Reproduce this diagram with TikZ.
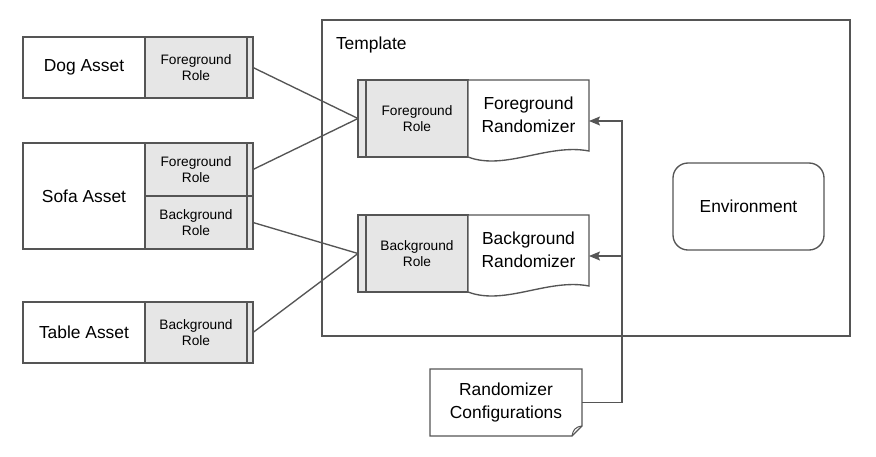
\documentclass[tikz,border=0pt]{standalone}
\usepackage{fontspec}
\setmainfont{Liberation Sans}
\usetikzlibrary{arrows.meta}
\definecolor{edge}{RGB}{85,85,85}
\definecolor{rolefill}{RGB}{230,230,230}
\begin{document}
\begin{tikzpicture}[x=1pt,y=-1pt,
  every node/.style={inner sep=0pt, outer sep=0pt},
  base/.style={draw=edge, line width=1.35pt},
  big/.style={font=\fontsize{17.4}{22.7}\selectfont, align=center},
  small/.style={font=\fontsize{13.7}{16.3}\selectfont, align=center},
  assetbox/.style={base, fill=white, minimum width=122pt, big},
  rolebox/.style={base, fill=rolefill, minimum width=102pt, small},
  stripbox/.style={base, fill=rolefill, minimum width=6pt},
  tstrip/.style={base, fill=rolefill, minimum width=8pt, minimum height=77pt},
  troles/.style={base, fill=rolefill, minimum width=102pt, minimum height=77pt, small},
  conn/.style={draw=edge, line width=1.35pt},
  arr/.style={conn, -{Stealth[length=11pt,width=9pt,inset=2pt]}},
]
\useasboundingbox (0,0) rectangle (876,456);

% template
\node[base, minimum width=528pt, minimum height=316pt] (template) at (586,178) {};
\node[big, anchor=west] (templabel) at (336,45) {Template};

% assets
\node[assetbox, minimum height=61pt] (dog) at (84,67.5) {Dog Asset};
\node[rolebox, minimum height=61pt] (dogrole) at (196,67.5) {Foreground\\Role};
\node[stripbox, minimum height=61pt] (dogstrip) at (250,67.5) {};

\node[assetbox, minimum height=106pt] (sofa) at (84,196) {Sofa Asset};
\node[rolebox, minimum height=53pt] (sofafg) at (196,169.5) {Foreground\\Role};
\node[stripbox, minimum height=53pt] (sofafgstrip) at (250,169.5) {};
\node[rolebox, minimum height=53pt] (sofabg) at (196,222.5) {Background\\Role};
\node[stripbox, minimum height=53pt] (sofabgstrip) at (250,222.5) {};

\node[assetbox, minimum height=61pt] (table) at (84,332.5) {Table Asset};
\node[rolebox, minimum height=61pt] (tablerole) at (196,332.5) {Background\\Role};
\node[stripbox, minimum height=61pt] (tablestrip) at (250,332.5) {};

% template roles
\node[tstrip] (fgstrip) at (362,118.5) {};
\node[troles] (fgrole) at (417,118.5) {Foreground\\Role};
\node[tstrip] (bgstrip) at (362,253.5) {};
\node[troles] (bgrole) at (417,253.5) {Background\\Role};

% randomizer documents
\node[big, minimum width=121pt, minimum height=70pt] (fgrand) at (528.5,115) {};
\draw[base, fill=white] (fgrole.north east) -- (589,80) -- (589,151)
  .. controls (548,143) and (505,171) .. (fgrole.south east) -- cycle;
\node[big] (fgrandtext) at (fgrand.center) {Foreground\\Randomizer};

\node[big, minimum width=121pt, minimum height=70pt] (bgrand) at (528.5,250) {};
\draw[base, fill=white] (bgrole.north east) -- (589,215) -- (589,286)
  .. controls (548,278) and (505,306) .. (bgrole.south east) -- cycle;
\node[big] (bgrandtext) at (bgrand.center) {Background\\Randomizer};

% environment
\node[base, rounded corners=15pt, minimum width=151pt, minimum height=87pt, big] (env) at (748.5,206.5) {Environment};

% configurations
\node[big, minimum width=152pt, minimum height=67pt] (cfg) at (506,402.5) {};
\draw[base, fill=white] (cfg.north west) -- (cfg.north east) -- ([yshift=10pt]cfg.south east)
  -- ([xshift=-10pt]cfg.south east) -- (cfg.south west) -- cycle;
\draw[conn, line width=1pt] ([xshift=-10pt]cfg.south east) .. controls ([xshift=-9pt,yshift=6pt]cfg.south east) and ([xshift=-7pt,yshift=9pt]cfg.south east) .. ([yshift=10pt]cfg.south east);
\node[big] (cfgtext) at (cfg.center) {Randomizer\\Configurations};

% connectors from assets
\draw[conn] (dogstrip.east) -- (fgstrip.west);
\draw[conn] (sofafgstrip.east) -- (fgstrip.west);
\draw[conn] (sofabgstrip.east) -- (bgstrip.west);
\draw[conn] (tablestrip.east) -- (bgstrip.west);

% config arrows
\coordinate (busT) at (622,121);
\coordinate (busB) at (622,256);
\draw[arr] (cfg.east) -| (busT) -- (busT -| fgrand.east);
\draw[arr] (busB) -- (busB -| bgrand.east);
\end{tikzpicture}
\end{document}
